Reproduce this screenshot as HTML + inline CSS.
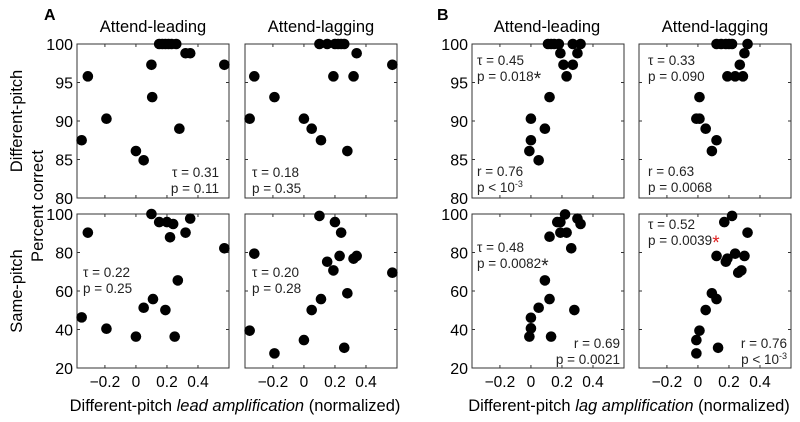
<!DOCTYPE html>
<html><head><meta charset="utf-8"><style>
body{margin:0;background:#fff}
svg{display:block;font-family:"Liberation Sans",Arial,sans-serif}
</style></head><body>
<svg id="fig" width="800" height="422" viewBox="0 0 800 422">
<text x="44" y="20" font-size="16" font-weight="bold">A</text>
<text x="437" y="20" font-size="16" font-weight="bold">B</text>
<text x="153" y="32" font-size="16.5" text-anchor="middle">Attend-leading</text>
<text x="321" y="32" font-size="16.5" text-anchor="middle">Attend-lagging</text>
<text x="547" y="32" font-size="16.5" text-anchor="middle">Attend-leading</text>
<text x="715" y="32" font-size="16.5" text-anchor="middle">Attend-lagging</text>
<text transform="translate(22,121) rotate(-90)" font-size="16.5" text-anchor="middle">Different-pitch</text>
<text transform="translate(22,291) rotate(-90)" font-size="16.5" text-anchor="middle">Same-pitch</text>
<text transform="translate(43,206) rotate(-90)" font-size="16.5" text-anchor="middle">Percent correct</text>
<text x="235" y="411" font-size="16.5" text-anchor="middle">Different-pitch <tspan font-style="italic">lead amplification</tspan> (normalized)</text>
<text x="629" y="411" font-size="16.5" text-anchor="middle">Different-pitch <tspan font-style="italic">lag amplification</tspan> (normalized)</text>
<g id="plots"></g>
</svg>
<script>
const xTicks=[-0.2,0,0.2,0.4];
const xTickLabels=["\u22120.2","0","0.2","0.4"];
const yTicksTop=[80,85,90,95,100];
const yTicksBot=[20,40,60,80,100];
// A row 1
const a1tx=[-0.35,-0.31,-0.19,0,0.05,0.10,0.105,0.15,0.17,0.19,0.21,0.23,0.26,0.28,0.32,0.35,0.57];
const a1ty=[87.5,95.8,90.3,86.1,84.9,97.3,93.1,100,100,100,100,100,100,89,98.8,98.8,97.3];
const a2tx=[-0.35,-0.32,-0.19,0,0.05,0.11,0.28,0.19,0.32,0.34,0.57,0.10,0.15,0.20,0.22,0.24,0.26];
const a2ty=[90.3,95.8,93.1,90.3,89,87.5,86.1,95.8,95.8,98.8,97.3,100,100,100,100,100,100];
// A row 2
const a1bx=[-0.35,-0.31,-0.19,0,0.05,0.11,0.10,0.15,0.20,0.24,0.22,0.19,0.27,0.25,0.32,0.35,0.57];
const a1by=[46.3,90.3,40.4,36.3,51.3,55.8,100,95.8,95.8,94.8,87.9,50.1,65.5,36.3,90.3,97.6,82.2];
const a2bx=[-0.35,-0.32,-0.19,0,0.05,0.11,0.10,0.20,0.24,0.15,0.19,0.23,0.28,0.26,0.32,0.34,0.57];
const a2by=[39.4,79.4,27.6,34.5,50.1,55.8,99,95.8,90.3,75.2,70.7,78.2,58.8,30.5,76.8,78.2,69.5];
// B row 1
const b1tx=[-0.01,0,0,0.05,0.09,0.12,0.23,0.21,0.27,0.19,0.30,0.11,0.13,0.15,0.18,0.27,0.32];
const b1ty=[86.1,87.5,90.3,84.9,89,93.1,95.8,97.3,97.3,98.8,98.8,100,100,100,100,100,100];
const b2tx=[0.01,-0.01,0.01,0.05,0.12,0.09,0.19,0.24,0.29,0.27,0.30,0.12,0.15,0.18,0.20,0.22,0.32];
const b2ty=[93.1,90.3,90.3,89,87.5,86.1,95.8,95.8,95.8,97.3,98.8,100,100,100,100,100,100];
// B row 2
const b1bx=[-0.01,0,0,0.05,0.09,0.12,0.13,0.12,0.17,0.19,0.19,0.23,0.22,0.26,0.28,0.30,0.32];
const b1by=[36.3,40.6,46.1,51.3,65.5,55.8,36.3,88.2,95.8,95.8,90.3,90.3,99.8,82.2,50.1,97.6,94.8];
const b2bx=[-0.01,-0.01,0.01,0.05,0.09,0.12,0.13,0.12,0.18,0.19,0.24,0.26,0.28,0.30,0.17,0.22,0.32];
const b2by=[27.6,34.5,39.4,50.1,58.8,55.8,30.5,78.2,75.2,76.8,79.4,69.5,70.7,78.2,95.8,99,90.3];

const NS="http://www.w3.org/2000/svg";
const root=document.getElementById('plots');
function mk(tag,attrs,parent){const e=document.createElementNS(NS,tag);for(const k in attrs)e.setAttribute(k,attrs[k]);(parent||root).appendChild(e);return e;}
const XMIN=-0.38,XMAX=0.6;
const panels=[
 {name:'a-leading-different',x0:77,y0:44,xs:a1tx,ys:a1ty,top:true,yl:true,xl:false},
 {name:'a-lagging-different',x0:245,y0:44,xs:a2tx,ys:a2ty,top:true,yl:false,xl:false},
 {name:'a-leading-same',x0:77,y0:214,xs:a1bx,ys:a1by,top:false,yl:true,xl:true},
 {name:'a-lagging-same',x0:245,y0:214,xs:a2bx,ys:a2by,top:false,yl:false,xl:true},
 {name:'b-leading-different',x0:472,y0:44,xs:b1tx,ys:b1ty,top:true,yl:true,xl:false},
 {name:'b-lagging-different',x0:639,y0:44,xs:b2tx,ys:b2ty,top:true,yl:false,xl:false},
 {name:'b-leading-same',x0:472,y0:214,xs:b1bx,ys:b1by,top:false,yl:true,xl:true},
 {name:'b-lagging-same',x0:639,y0:214,xs:b2bx,ys:b2by,top:false,yl:false,xl:true}
];
const W=152,H=154;
panels.forEach(p=>{
  const g=mk('g',{});
  
  
  const ymin=p.top?80:20,ymax=100;
  const sx=v=>p.x0+(v-XMIN)/(XMAX-XMIN)*W;
  const sy=v=>p.y0+H-(v-ymin)/(ymax-ymin)*H;
  const fr=mk('rect',{x:p.x0,y:p.y0,width:W,height:H,fill:'none',stroke:'#333','stroke-width':1},g);
  
  
  xTicks.forEach((t,i)=>{
    const X=sx(t);
    mk('line',{x1:X,x2:X,y1:p.y0+H,y2:p.y0+H-3,stroke:'#333'},g);
    mk('line',{x1:X,x2:X,y1:p.y0,y2:p.y0+3,stroke:'#333'},g);
    if(p.xl){const tx=mk('text',{x:X,y:p.y0+H+19,'font-size':15.5,'text-anchor':'middle'},g);tx.textContent=xTickLabels[i];
      
      }
  });
  (p.top?yTicksTop:yTicksBot).forEach(t=>{
    const Y=sy(t);
    mk('line',{x1:p.x0,x2:p.x0+3,y1:Y,y2:Y,stroke:'#333'},g);
    mk('line',{x1:p.x0+W,x2:p.x0+W-3,y1:Y,y2:Y,stroke:'#333'},g);
    if(p.yl){const tx=mk('text',{x:p.x0-4,y:Y+6,'font-size':16,'text-anchor':'end'},g);tx.textContent=t;
      
      }
  });
  p.xs.forEach((v,i)=>{
    const c=mk('circle',{cx:sx(v),cy:sy(p.ys[i]),r:5.3,fill:'#000'},g);
    
    
  });
});
function label(x,y,lines,anchor,name){
  const g=mk('g',{});
  
  
  lines.forEach((l,i)=>{const t=mk('text',{x:x,y:y+i*16,'font-size':13.5,'text-anchor':anchor||'start',fill:'#222'},g);t.innerHTML=l;});
}
const star='<tspan font-size="19" dy="4">*</tspan>';
const rstar='<tspan font-size="19" dy="4" fill="#e02020">*</tspan>';
label(219,177,['\u03c4 = 0.31','p = 0.11'],'end','stats-a1');
label(252,177,['\u03c4 = 0.18','p = 0.35'],'start','stats-a2');
label(83,277,['\u03c4 = 0.22','p = 0.25'],'start','stats-a3');
label(252,277,['\u03c4 = 0.20','p = 0.28'],'start','stats-a4');
label(477,65,['\u03c4 = 0.45','p = 0.018'+star],'start','stats-b1-tau');
label(477,176,['r = 0.76','p &lt; 10<tspan font-size="9" dy="-5">-3</tspan>'],'start','stats-b1-r');
label(648,65,['\u03c4 = 0.33','p = 0.090'],'start','stats-b2-tau');
label(648,176,['r = 0.63','p = 0.0068'],'start','stats-b2-r');
label(477,252,['\u03c4 = 0.48','p = 0.0082'+star],'start','stats-b3-tau');
label(620,348,['r = 0.69','p = 0.0021'],'end','stats-b3-r');
label(648,229,['\u03c4 = 0.52','p = 0.0039'+rstar],'start','stats-b4-tau');
label(787,348,['r = 0.76','p &lt; 10<tspan font-size="9" dy="-5">-3</tspan>'],'end','stats-b4-r');
</script>
</body></html>
